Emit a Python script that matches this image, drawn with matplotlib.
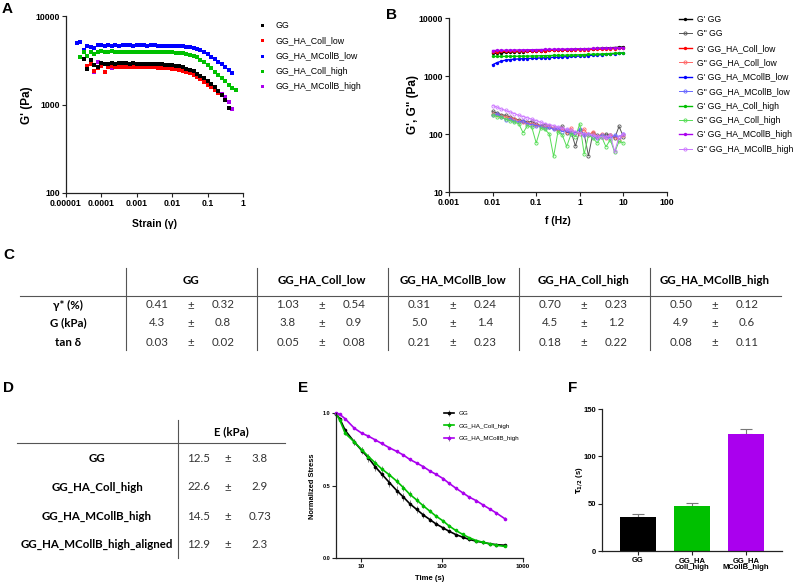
import numpy as np
import matplotlib
matplotlib.use("Agg")
import matplotlib.pyplot as plt

nan = np.nan

# ---------------- data ----------------
# A: strain sweep, G' (Pa)
strain = [2.0e-5, 2.5e-5, 3.2e-5, 4.0e-5, 5.0e-5, 6.3e-5, 7.9e-5, 1.0e-4, 1.26e-4, 1.58e-4,
          2.0e-4, 2.5e-4, 3.2e-4, 4.0e-4, 5.0e-4, 6.3e-4, 7.9e-4, 1.0e-3, 1.26e-3, 1.58e-3,
          2.0e-3, 2.5e-3, 3.2e-3, 4.0e-3, 5.0e-3, 6.3e-3, 7.9e-3, 0.01, 0.0126, 0.0158,
          0.02, 0.025, 0.032, 0.04, 0.05, 0.063, 0.079, 0.1, 0.126, 0.158,
          0.2, 0.25, 0.32, 0.4, 0.5, 0.63]
g_gg = [nan, nan, 3300, 2550, 3200, 2800, 2650, 2950, 2850, 2900,
        2950, 2880, 2920, 2950, 2920, 2900, 2910, 2900, 2900, 2890,
        2880, 2880, 2870, 2860, 2850, 2830, 2810, 2780, 2740, 2690,
        2630, 2550, 2460, 2360, 2240, 2110, 1980, 1840, 1700, 1560,
        1420, 1280, 1130, 920, nan, nan]
g_coll_low = [nan, nan, nan, 2700, 2850, 2400, 2600, 2700, 2350, 2650,
              2700, 2620, 2680, 2650, 2670, 2660, 2650, 2650, 2640, 2640,
              2630, 2620, 2620, 2610, 2600, 2580, 2560, 2530, 2500, 2450,
              2400, 2330, 2250, 2150, 2050, 1930, 1800, 1680, 1560, 1450,
              1340, 1270, nan, nan, nan, nan]
g_mcoll_low = [4900, 5050, 4100, 4600, 4500, 4400, 4650, 4750, 4600, 4650,
               4600, 4650, 4620, 4680, 4650, 4660, 4640, 4650, 4660, 4650,
               4640, 4650, 4650, 4640, 4640, 4630, 4620, 4610, 4600, 4580,
               4560, 4520, 4470, 4380, 4250, 4100, 3900, 3700, 3480, 3260,
               3050, 2850, 2650, 2450, 2270, nan]
g_coll_high = [nan, 3400, 3950, 3550, 3900, 3750, 3950, 4000, 3900, 3950,
               3980, 3950, 3970, 3950, 3960, 3950, 3950, 3950, 3940, 3950,
               3940, 3940, 3930, 3930, 3920, 3910, 3900, 3880, 3860, 3830,
               3790, 3730, 3650, 3540, 3400, 3220, 3000, 2780, 2560, 2350,
               2150, 1980, 1820, 1680, 1550, 1440]
g_mcoll_high = [nan, nan, nan, nan, 2950, 2350, 3000, 2750, 2850, 2900,
                2600, 2900, 2950, 2880, 2890, 2880, 2880, 2870, 2870, 2860,
                2860, 2850, 2850, 2840, 2830, 2810, 2790, 2760, 2720, 2670,
                2610, 2530, 2440, 2340, 2220, 2090, 1960, 1820, 1690, 1560,
                1430, 1330, 1200, 1080, 900, nan]
a_labels = ["GG", "GG_HA_Coll_low", "GG_HA_MCollB_low", "GG_HA_Coll_high", "GG_HA_MCollB_high"]
a_xticks = [1e-5, 1e-4, 1e-3, 1e-2, 1e-1, 1]
a_xticklabels = ["0.00001", "0.0001", "0.001", "0.01", "0.1", "1"]
a_yticks = [100, 1000, 10000]

# B: frequency sweep
freq = [0.01, 0.0126, 0.0158, 0.02, 0.0251, 0.0316, 0.0398, 0.0501, 0.0631, 0.0794,
        0.1, 0.126, 0.158, 0.2, 0.251, 0.316, 0.398, 0.501, 0.631, 0.794,
        1, 1.26, 1.58, 2, 2.51, 3.16, 3.98, 5.01, 6.31, 7.94, 10]
gp_gg = [2450, 2480, 2520, 2550, 2580, 2600, 2620, 2640, 2660, 2680, 2700, 2720, 2740, 2760, 2780, 2800,
         2820, 2840, 2860, 2880, 2900, 2920, 2940, 2960, 2990, 3010, 3040, 3070, 3100, 3130, 3170]
gpp_gg = [245, 230, 215, 210, 195, 185, 175, 170, 160, 165, 150, 140, 145, 130, 125, 120,
          135, 105, 110, 62, 115, 100, 42, 105, 95, 90, 100, 95, 85, 135, 90]
gp_coll_low = [2620, 2640, 2650, 2660, 2670, 2680, 2690, 2700, 2710, 2720, 2730, 2740, 2750, 2760, 2770, 2780,
               2790, 2800, 2810, 2820, 2830, 2840, 2860, 2870, 2890, 2900, 2920, 2940, 2960, 2980, 3000]
gpp_coll_low = [225, 215, 205, 195, 190, 180, 170, 160, 155, 150, 145, 140, 130, 135, 125, 115,
                120, 110, 125, 105, 100, 120, 95, 110, 90, 100, 85, 95, 90, 80, 95]
gp_mcoll_low = [1560, 1700, 1800, 1880, 1920, 1950, 1970, 1990, 2000, 2020, 2030, 2050, 2060, 2080, 2100, 2110,
                2130, 2150, 2170, 2190, 2210, 2230, 2250, 2280, 2300, 2330, 2360, 2390, 2420, 2460, 2500]
gpp_mcoll_low = [210, 220, 200, 175, 185, 165, 160, 170, 150, 145, 140, 135, 125, 130, 120, 125,
                 110, 115, 100, 105, 120, 95, 100, 90, 85, 95, 90, 85, 95, 90, 100]
gp_coll_high = [2180, 2170, 2170, 2180, 2180, 2190, 2190, 2200, 2200, 2210, 2220, 2230, 2240, 2250, 2260, 2270,
                2280, 2290, 2300, 2310, 2320, 2340, 2350, 2370, 2380, 2400, 2420, 2440, 2460, 2480, 2500]
gpp_coll_high = [215, 200, 195, 180, 170, 160, 150, 105, 140, 130, 70, 125, 120, 100, 41, 110,
                 95, 61, 100, 90, 150, 45, 95, 85, 70, 90, 60, 80, 48, 75, 70]
gp_mcoll_high = [2750, 2760, 2770, 2780, 2790, 2800, 2810, 2820, 2830, 2840, 2850, 2860, 2870, 2880, 2890, 2900,
                 2910, 2920, 2930, 2940, 2950, 2960, 2970, 2980, 2990, 3000, 3020, 3040, 3060, 3080, 3100]
gpp_mcoll_high = [310, 290, 270, 255, 240, 225, 210, 200, 190, 180, 170, 160, 150, 145, 140, 130,
                  125, 120, 115, 110, 105, 100, 100, 95, 92, 90, 88, 95, 50, 90, 100]
b_xticks = [0.001, 0.01, 0.1, 1, 10, 100]
b_xticklabels = ["0.001", "0.01", "0.1", "1", "10", "100"]
b_yticks = [10, 100, 1000, 10000]

# C: table
c_groups = ["GG", "GG_HA_Coll_low", "GG_HA_MCollB_low", "GG_HA_Coll_high", "GG_HA_MCollB_high"]
c_rows = ["γ* (%)", "G (kPa)", "tan δ"]
c_fmt = ["{:.2f}", "{:.1f}", "{:.2f}"]
c_mean = [[0.41, 1.03, 0.31, 0.70, 0.50],
          [4.3, 3.8, 5.0, 4.5, 4.9],
          [0.03, 0.05, 0.21, 0.18, 0.08]]
c_sd = [[0.32, 0.54, 0.24, 0.23, 0.12],
        [0.8, 0.9, 1.4, 1.2, 0.6],
        [0.02, 0.08, 0.23, 0.22, 0.11]]

# D: table
d_groups = ["GG", "GG_HA_Coll_high", "GG_HA_MCollB_high", "GG_HA_MCollB_high_aligned"]
d_mean = [12.5, 22.6, 14.5, 12.9]
d_sd = [3.8, 2.9, 0.73, 2.3]

# E: stress relaxation
t_relax = [5.0, 5.5, 6.4, 8.3, 10.3, 12.4, 15.0, 18.0, 22.5, 27.7, 33.5, 40.0, 48.8,
           58.8, 71.0, 84.0, 103, 122, 148, 180, 217, 266, 323, 389, 470, 593]
s_gg = [0.99, 0.96, 0.88, 0.80, 0.74, 0.69, 0.63, 0.58, 0.52, 0.465, 0.42, 0.375, 0.335,
        0.297, 0.265, 0.236, 0.208, 0.185, 0.162, 0.144, 0.128, 0.116, 0.107, 0.098, 0.092, 0.088]
s_gg_err = [0.005, 0.01, 0.02, 0.02, 0.025, 0.03, 0.03, 0.03, 0.03, 0.03, 0.03, 0.028, 0.025,
            0.022, 0.02, 0.018, 0.015, 0.013, 0.012, 0.01, 0.01, 0.008, 0.007, 0.006, 0.005, 0.005]
s_coll = [0.99, 0.95, 0.86, 0.80, 0.745, 0.70, 0.656, 0.615, 0.573, 0.53, 0.485, 0.44, 0.40,
          0.36, 0.323, 0.29, 0.256, 0.222, 0.19, 0.163, 0.14, 0.12, 0.108, 0.098, 0.088, 0.08]
s_coll_err = [0.005, 0.01, 0.015, 0.02, 0.02, 0.02, 0.02, 0.02, 0.02, 0.02, 0.02, 0.02, 0.018,
              0.017, 0.016, 0.015, 0.013, 0.012, 0.01, 0.01, 0.008, 0.007, 0.006, 0.005, 0.005, 0.005]
s_mcoll = [1.0, 0.99, 0.96, 0.895, 0.86, 0.84, 0.815, 0.79, 0.76, 0.735, 0.71, 0.68, 0.655,
           0.63, 0.60, 0.578, 0.548, 0.516, 0.482, 0.45, 0.42, 0.395, 0.365, 0.338, 0.31, 0.272]
s_mcoll_err = [0.003, 0.004, 0.005, 0.006, 0.006, 0.007, 0.007, 0.008, 0.008, 0.008, 0.008, 0.008, 0.008,
               0.009, 0.009, 0.009, 0.009, 0.01, 0.01, 0.01, 0.01, 0.01, 0.01, 0.01, 0.01, 0.01]
e_labels = ["GG", "GG_HA_Coll_high", "GG_HA_MCollB_high"]

# F: half relaxation time
f_groups = ["GG", "GG_HA\nColl_high", "GG_HA\nMCollB_high"]
tau = [35.5, 48, 124]
tau_err = [3.5, 3, 5]

# ---------------- style ----------------
plt.rcParams["font.family"] = ["Liberation Sans", "DejaVu Sans"]
TABLE_FONT = ["Lato", "DejaVu Sans"]
BLACK, RED, BLUE, GREEN, PURPLE = "#000000", "#ff0000", "#0000ff", "#00c000", "#aa00ee"
LIGHT = {"k": "#555555", "r": "#ff6666", "b": "#6666ff", "g": "#55dd55", "p": "#cc77ff"}

W, H = 798, 586
fig = plt.figure(figsize=(W / 100, H / 100), dpi=100)


def px_axes(left, top, right, bottom):
    return fig.add_axes([left / W, 1 - bottom / H, (right - left) / W, (bottom - top) / H])


def to_axes(ax, px, py):
    b = ax.get_position()
    return (px / W - b.x0) / b.width, ((1 - py / H) - b.y0) / b.height


def prism_style(ax, size):
    for s in ["top", "right"]:
        ax.spines[s].set_visible(False)
    for s in ["left", "bottom"]:
        ax.spines[s].set_linewidth(0.9)
        ax.spines[s].set_color("#222222")
    ax.tick_params(length=2.8, width=0.8, labelsize=size, pad=1.5, color="#222222")


# overlay for tables and panel letters (pixel coordinates)
ov = fig.add_axes([0, 0, 1, 1], zorder=-1)
ov.set_xlim(0, W)
ov.set_ylim(H, 0)
ov.axis("off")
for letter, lx, ly in [("A", 2, 9), ("B", 386, 15), ("C", 3, 255), ("D", 3, 388), ("E", 298, 388), ("F", 568, 388)]:
    ov.text(lx, ly, letter, fontsize=11, fontweight="bold", ha="left", va="center")

# ---------------- A ----------------
ax_a = px_axes(66, 16, 243, 193)
ax_a.set_xscale("log")
ax_a.set_yscale("log")
a_series = [g_gg, g_coll_low, g_mcoll_low, g_coll_high, g_mcoll_high]
a_colors = [BLACK, RED, BLUE, GREEN, PURPLE]
a_z = [5, 4, 3, 3, 3]
for ys, c, lab, z in zip(a_series, a_colors, a_labels, a_z):
    ax_a.plot(strain, ys, ls="none", marker="s", ms=2.4, mew=0, color=c, label=lab, zorder=z)
ax_a.set_xlim(1e-5, 1)
ax_a.set_ylim(100, 10000)
ax_a.set_xticks(a_xticks, a_xticklabels, fontweight="bold")
ax_a.set_yticks(a_yticks, [str(v) for v in a_yticks], fontweight="bold")
ax_a.minorticks_off()
prism_style(ax_a, 6.3)
ax_a.set_xlabel("Strain (γ)", fontsize=7.5, fontweight="bold", va="center")
ax_a.xaxis.set_label_coords(*to_axes(ax_a, 155, 224))
ax_a.set_ylabel("G' (Pa)", fontsize=8.5, fontweight="bold", va="center")
ax_a.yaxis.set_label_coords(*to_axes(ax_a, 27, 105))
ax_a.legend(loc="upper left", bbox_to_anchor=(258 / W, 1 - 21 / H), bbox_transform=fig.transFigure,
            frameon=False, fontsize=6.3, handlelength=1.0, handletextpad=1.0, labelspacing=0.72,
            borderpad=0, borderaxespad=0, markerscale=0.9)

# ---------------- B ----------------
ax_b = px_axes(449, 18, 667, 192)
ax_b.set_xscale("log")
ax_b.set_yscale("log")
b_sets = [("GG", gp_gg, gpp_gg, BLACK, LIGHT["k"]),
          ("GG_HA_Coll_low", gp_coll_low, gpp_coll_low, RED, LIGHT["r"]),
          ("GG_HA_MCollB_low", gp_mcoll_low, gpp_mcoll_low, BLUE, LIGHT["b"]),
          ("GG_HA_Coll_high", gp_coll_high, gpp_coll_high, GREEN, LIGHT["g"]),
          ("GG_HA_MCollB_high", gp_mcoll_high, gpp_mcoll_high, PURPLE, LIGHT["p"])]
for name, gp, gpp, c, lc in b_sets:
    ax_b.plot(freq, gp, "-o", color=c, lw=1.0, ms=2.4, mew=0, label="G' " + name, zorder=4)
    ax_b.plot(freq, gpp, "-o", color=lc, lw=0.7, ms=2.3, mew=0.6, mfc="none", label='G" ' + name, zorder=3)
ax_b.set_xlim(0.001, 100)
ax_b.set_ylim(10, 10000)
ax_b.set_xticks(b_xticks, b_xticklabels, fontweight="bold")
ax_b.set_yticks(b_yticks, [str(v) for v in b_yticks], fontweight="bold")
ax_b.minorticks_off()
prism_style(ax_b, 6.3)
ax_b.set_xlabel("f (Hz)", fontsize=7.5, fontweight="bold", va="center")
ax_b.xaxis.set_label_coords(*to_axes(ax_b, 558, 221))
ax_b.set_ylabel('G\', G" (Pa)', fontsize=8.5, fontweight="bold", va="center")
ax_b.yaxis.set_label_coords(*to_axes(ax_b, 413, 105))
ax_b.legend(loc="upper left", bbox_to_anchor=(679 / W, 1 - 15 / H), bbox_transform=fig.transFigure,
            frameon=False, fontsize=6.2, handlelength=1.5, handletextpad=0.6, labelspacing=0.63,
            borderpad=0, borderaxespad=0)

# ---------------- C (table) ----------------
c_left = [126, 257, 388, 519, 650]
c_row_y = [305, 323, 342]
ov.plot([20, 781], [296, 296], color="#555555", lw=0.8)
for xl in c_left:
    ov.plot([xl, xl], [268, 350], color="#555555", lw=0.8)
for g, xl in zip(c_groups, c_left):
    ov.text(xl + 65, 280, g, family=TABLE_FONT, fontsize=8.3, fontweight="bold", ha="center", va="center")
for i, (rl, ry) in enumerate(zip(c_rows, c_row_y)):
    ov.text(68, ry, rl, family=TABLE_FONT, fontsize=8.3, fontweight="bold", ha="center", va="center")
    for j, xl in enumerate(c_left):
        ov.text(xl + 31, ry, c_fmt[i].format(c_mean[i][j]), family=TABLE_FONT, fontsize=8.3,
                color="#333333", ha="center", va="center")
        ov.text(xl + 65, ry, "±", family=TABLE_FONT, fontsize=8.3, color="#333333", ha="center", va="center")
        ov.text(xl + 97, ry, c_fmt[i].format(c_sd[i][j]), family=TABLE_FONT, fontsize=8.3,
                color="#333333", ha="center", va="center")

# ---------------- D (table) ----------------
d_row_y = [458, 487, 516, 544]
ov.plot([17, 285], [443, 443], color="#555555", lw=0.8)
ov.plot([178, 178], [420, 558], color="#555555", lw=0.8)
ov.text(231, 432, "E (kPa)", family=TABLE_FONT, fontsize=8.3, fontweight="bold", ha="center", va="center")
for g, m, s, ry in zip(d_groups, d_mean, d_sd, d_row_y):
    ov.text(97, ry, g, family=TABLE_FONT, fontsize=8.3, fontweight="bold", ha="center", va="center")
    ov.text(199, ry, str(m), family=TABLE_FONT, fontsize=8.3, color="#333333", ha="center", va="center")
    ov.text(228, ry, "±", family=TABLE_FONT, fontsize=8.3, color="#333333", ha="center", va="center")
    ov.text(260, ry, str(s), family=TABLE_FONT, fontsize=8.3, color="#333333", ha="center", va="center")

# ---------------- E ----------------
ax_e = px_axes(336, 413, 523, 558)
ax_e.set_xscale("log")
for ys, err, c, lab in [(s_gg, s_gg_err, BLACK, e_labels[0]),
                        (s_coll, s_coll_err, GREEN, e_labels[1]),
                        (s_mcoll, s_mcoll_err, PURPLE, e_labels[2])]:
    ax_e.errorbar(t_relax, ys, yerr=err, color=c, marker="o", ms=2.6, mew=0, lw=1.2,
                  ecolor="#888888", elinewidth=0.7, capsize=1.6, capthick=0.7, label=lab, clip_on=False)
ax_e.set_xlim(4.93, 1000)
ax_e.set_ylim(0, 1)
ax_e.set_xticks([10, 100, 1000], ["10", "100", "1000"], fontweight="bold")
ax_e.set_yticks([0, 0.5, 1.0], ["0.0", "0.5", "1.0"], fontweight="bold")
ax_e.minorticks_off()
prism_style(ax_e, 4.6)
ax_e.tick_params(axis="y", labelsize=4.0)
ax_e.set_xlabel("Time (s)", fontsize=5.6, fontweight="bold", va="center")
ax_e.xaxis.set_label_coords(*to_axes(ax_e, 430, 579))
ax_e.set_ylabel("Normalized Stress", fontsize=5.4, fontweight="bold", va="center")
ax_e.yaxis.set_label_coords(*to_axes(ax_e, 313, 486))
ax_e.legend(loc="upper left", bbox_to_anchor=(444 / W, 1 - 411 / H), bbox_transform=fig.transFigure,
            frameon=False, fontsize=4.5, handlelength=1.6, handletextpad=0.8, labelspacing=1.1,
            borderpad=0, borderaxespad=0)

# ---------------- F ----------------
ax_f = px_axes(602, 409, 782, 551)
xf = np.arange(len(f_groups))
ax_f.bar(xf, tau, width=0.67, color=[BLACK, GREEN, PURPLE], zorder=2)
ax_f.errorbar(xf, tau, yerr=[np.zeros(len(tau)), tau_err], fmt="none", ecolor="#777777",
              elinewidth=0.8, capsize=4, capthick=0.8, zorder=1)
ax_f.set_xlim(-0.667, 2.667)
ax_f.set_ylim(0, 150)
ax_f.set_xticks(xf, f_groups, fontweight="bold", linespacing=1.0)
ax_f.set_yticks([0, 50, 100, 150], ["0", "50", "100", "150"], fontweight="bold")
prism_style(ax_f, 5.5)
ax_f.set_ylabel(r"$\mathbf{\tau}_{\mathbf{1/2}}$ (s)", fontsize=5.5, fontweight="bold", va="center")
ax_f.yaxis.set_label_coords(*to_axes(ax_f, 580, 480))

fig.savefig("out.png", dpi=100)
